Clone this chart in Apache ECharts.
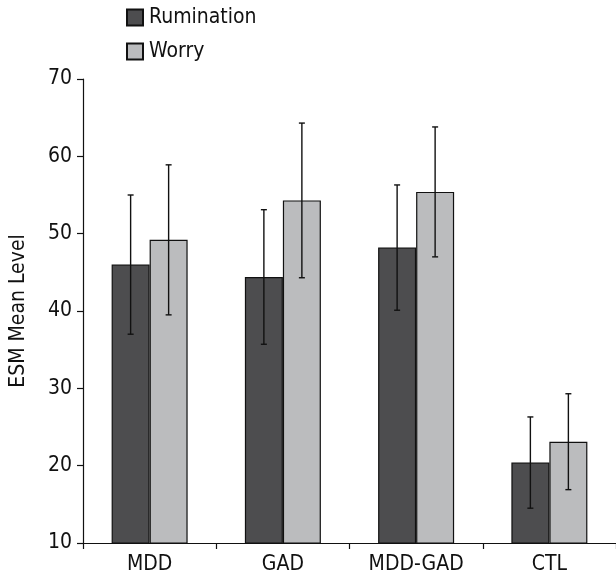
<!DOCTYPE html>
<html>
<head>
<meta charset="utf-8">
<script src="https://cdn.jsdelivr.net/npm/echarts@6/dist/echarts.min.js"></script>
<style>
html,body{margin:0;padding:0;background:#fff;}
#chart{width:616px;height:580px;}
</style>
</head>
<body>
<div id="chart"></div>
<script>
var categories = ['MDD', 'GAD', 'MDD-GAD', 'CTL'];
var rumination = [46.0, 44.4, 48.2, 20.4];
var ruminationErr = [9.0, 8.7, 8.1, 5.9];
var worry = [49.2, 54.3, 55.4, 23.1];
var worryErr = [9.7, 10.0, 8.4, 6.2];
var yTicks = [10, 20, 30, 40, 50, 60, 70];

var FONT = '"DejaVu Sans Condensed", "Liberation Sans Narrow", "Liberation Sans", sans-serif';
var FS = 21;
var BAR_W = 38;

function errData(vals, errs) {
  return vals.map(function (v, i) { return [i, v - errs[i], v + errs[i]]; });
}

function errRender(offset) {
  return function (params, api) {
    var lo = api.coord([api.value(0), api.value(1)]);
    var hi = api.coord([api.value(0), api.value(2)]);
    var x = lo[0] + offset;
    var cap = 3;
    var style = { stroke: '#111', lineWidth: 1.4 };
    return {
      type: 'group',
      children: [
        { type: 'line', shape: { x1: x, y1: lo[1], x2: x, y2: hi[1] }, style: style },
        { type: 'line', shape: { x1: x - cap, y1: lo[1], x2: x + cap, y2: lo[1] }, style: style },
        { type: 'line', shape: { x1: x - cap, y1: hi[1], x2: x + cap, y2: hi[1] }, style: style }
      ]
    };
  };
}

var chart = echarts.init(document.getElementById('chart'), null, { renderer: 'canvas' });
chart.setOption({
  animation: false,
  backgroundColor: '#fff',
  textStyle: { fontFamily: FONT },
  legend: {
    orient: 'vertical',
    left: 121,
    top: 2,
    padding: [5, 5, 5, 5],
    itemWidth: 16,
    itemHeight: 16,
    itemGap: 13,
    icon: 'rect',
    data: ['Rumination', 'Worry'],
    textStyle: { fontFamily: FONT, fontSize: FS, lineHeight: 20, color: '#111', padding: [0, 0, 0, 1] }
  },
  grid: { left: 80, right: 0, top: 79, bottom: 37, containLabel: false },
  xAxis: {
    type: 'category',
    data: categories,
    axisLine: { lineStyle: { color: '#111', width: 1.2 } },
    axisTick: { show: true, interval: 0, length: 6, lineStyle: { color: '#111', width: 1.2 } },
    axisLabel: { interval: 0, color: '#111', fontSize: FS, fontFamily: FONT, margin: 11 },
    splitLine: { show: false }
  },
  yAxis: {
    type: 'value',
    min: yTicks[0],
    max: yTicks[yTicks.length - 1],
    interval: 10,
    name: 'ESM Mean Level',
    nameLocation: 'middle',
    nameGap: 54,
    nameTextStyle: { color: '#111', fontSize: FS, fontFamily: FONT },
    axisLine: { show: true, lineStyle: { color: '#111', width: 1.2 } },
    axisTick: { show: true, length: 6, lineStyle: { color: '#111', width: 1.2 } },
    axisLabel: { color: '#111', fontSize: FS, fontFamily: FONT, margin: 11 },
    splitLine: { show: false }
  },
  series: [
    {
      name: 'Rumination',
      type: 'bar',
      data: rumination,
      barWidth: BAR_W,
      barGap: '0%',
      itemStyle: { color: '#4d4d4f', borderColor: '#111', borderWidth: 1.2 }
    },
    {
      name: 'Worry',
      type: 'bar',
      data: worry,
      barWidth: BAR_W,
      barGap: '0%',
      itemStyle: { color: '#bbbcbe', borderColor: '#111', borderWidth: 1.2 }
    },
    {
      type: 'custom',
      name: 'RumErr',
      renderItem: errRender(-BAR_W / 2),
      data: errData(rumination, ruminationErr),
      encode: { x: 0, y: [1, 2] },
      z: 10,
      silent: true
    },
    {
      type: 'custom',
      name: 'WorryErr',
      renderItem: errRender(BAR_W / 2),
      data: errData(worry, worryErr),
      encode: { x: 0, y: [1, 2] },
      z: 10,
      silent: true
    }
  ]
});
</script>
</body>
</html>
